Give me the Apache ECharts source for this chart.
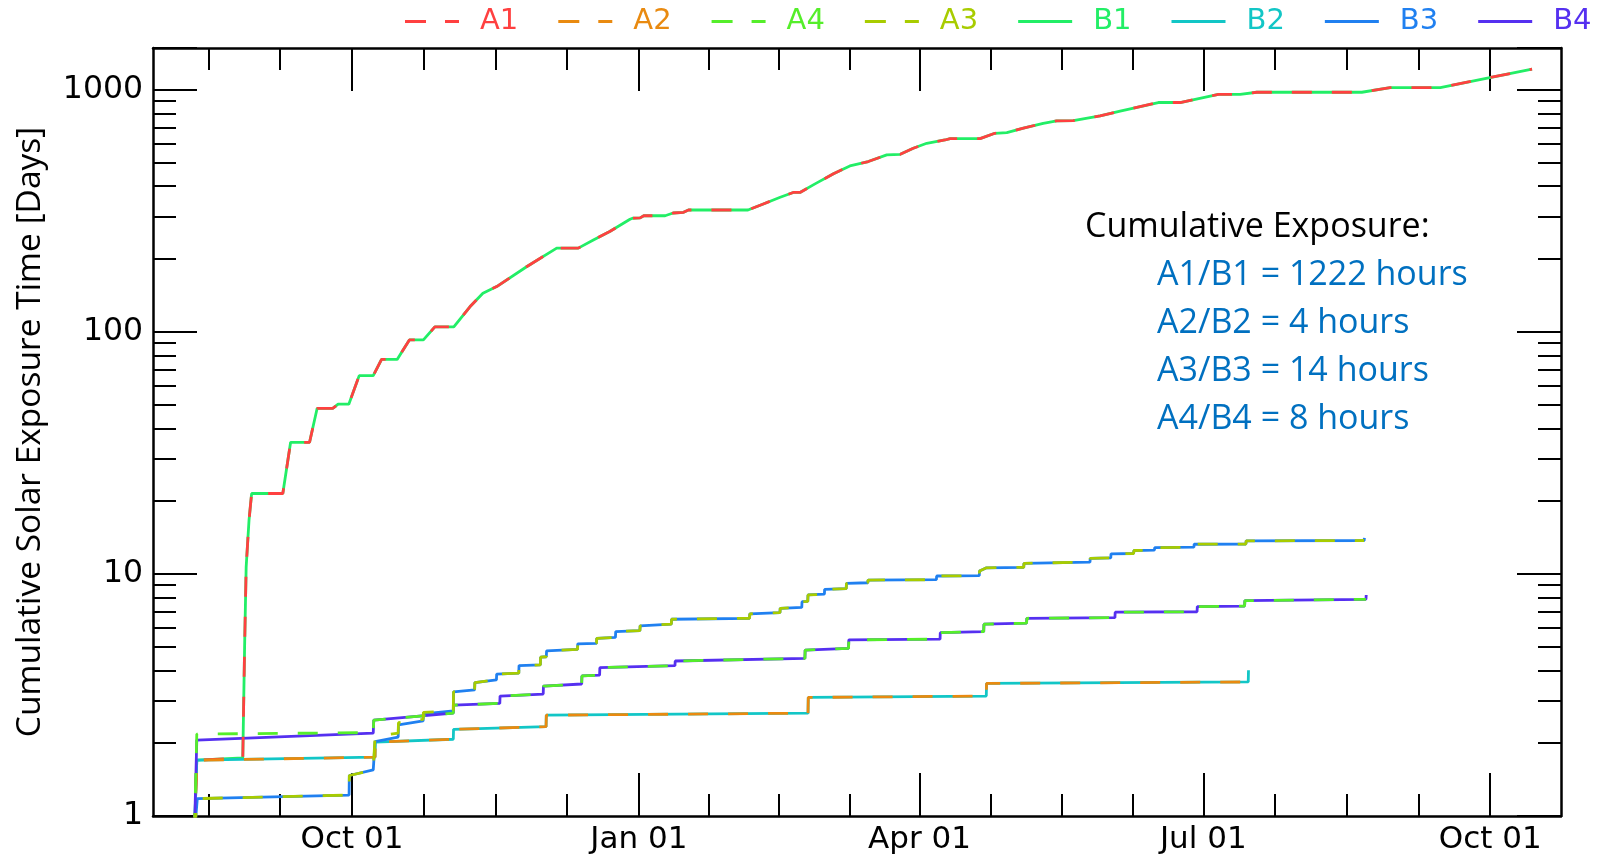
<!DOCTYPE html>
<html><head><meta charset="utf-8">
<script src="https://cdn.jsdelivr.net/npm/echarts@6/dist/echarts.min.js"></script>
<style>html,body{margin:0;padding:0;background:#fff}#c{width:1600px;height:855px}</style>
</head><body><div id="c"></div>
<script>
// ---------- DATA ----------
const seriesNames = ['A1','A2','A4','A3','B1','B2','B3','B4'];
const seriesColors = {A1:'#ff4040',A2:'#e98a10',A4:'#55ee2a',A3:'#a8cc00',B1:'#22ee66',B2:'#12c6c6',B3:'#2080f0',B4:'#5530f0'};
const monthLabels = ['Jan','Feb','Mar','Apr','May','Jun','Jul','Aug','Sep','Oct','Nov','Dec'];
const xMajorTicks = ['2018-10-01','2019-01-01','2019-04-01','2019-07-01','2019-10-01'];
const yTickLabels = [1, 10, 100, 1000];
const yTitle = 'Cumulative Solar Exposure Time [Days]';
const exposureTitle = 'Cumulative Exposure:';
const exposureLines = ['A1/B1 = 1222 hours','A2/B2 = 4 hours','A3/B3 = 14 hours','A4/B4 = 8 hours'];

const A1 = [
['2018-08-11 12:00',0.85],['2018-08-12 06:00',1.70],['2018-08-27 00:00',1.74],['2018-08-27 14:00',5.0],
['2018-08-28 02:00',10.7],['2018-08-29 00:00',16.7],['2018-08-29 20:00',21.5],['2018-09-08 20:00',21.5],
['2018-09-11 08:00',35],['2018-09-17 10:00',35],['2018-09-19 20:00',48.3],['2018-09-24 20:00',48.3],
['2018-09-26 14:00',50.3],['2018-09-30 00:00',50.3],['2018-10-03 08:00',66],['2018-10-07 20:00',66],
['2018-10-10 12:00',77],['2018-10-15 12:00',77],['2018-10-19 10:00',92.7],['2018-10-23 22:00',92.7],
['2018-10-27 14:00',105],['2018-11-02 16:00',105],['2018-11-07 20:00',127],['2018-11-12 00:00',144.5],
['2018-11-16 10:00',154],['2018-11-26 00:00',186],['2018-12-05 16:00',222],['2018-12-12 14:00',222],
['2018-12-17 10:00',240],['2018-12-22 16:00',260],['2018-12-29 04:00',292],['2018-12-30 00:00',295],
['2019-01-01 10:00',296],['2019-01-02 14:00',302],['2019-01-09 10:00',302],['2019-01-12 00:00',310],
['2019-01-15 08:00',312],['2019-01-16 22:00',319],['2019-02-05 00:00',319],['2019-02-09 22:00',338],
['2019-02-15 08:00',360],['2019-02-19 12:00',377],['2019-02-21 16:00',377],['2019-02-26 12:00',409],
['2019-03-04 10:00',450],['2019-03-09 16:00',485],['2019-03-15 14:00',506],['2019-03-21 12:00',539],
['2019-03-25 20:00',542],['2019-03-30 00:00',574],['2019-04-03 08:00',602],['2019-04-09 04:00',621],
['2019-04-10 20:00',629],['2019-04-20 10:00',629],['2019-04-25 04:00',662],['2019-04-29 00:00',666],
['2019-05-04 08:00',695],['2019-05-10 16:00',728],['2019-05-15 00:00',745],['2019-05-20 08:00',747],
['2019-05-28 22:00',781],['2019-06-04 08:00',817],['2019-06-16 14:00',887],['2019-06-23 14:00',887],
['2019-07-05 20:00',958],['2019-07-12 20:00',958],['2019-07-18 04:00',978],['2019-08-20 20:00',978],
['2019-08-29 22:00',1023],['2019-09-15 00:00',1023],['2019-10-14 10:00',1219]
];
const B1 = A1.slice();

const A2 = [
['2018-08-11 12:00',0.85],['2018-08-12 06:00',1.70],['2018-10-08 10:00',1.75],['2018-10-08 12:00',2.02],
['2018-11-02 12:00',2.075],['2018-11-02 14:00',2.28],['2018-12-02 06:00',2.34],['2018-12-02 08:00',2.61],
['2019-02-24 06:00',2.66],['2019-02-24 08:00',3.09],['2019-04-22 10:00',3.13],['2019-04-22 12:00',3.53],
['2019-07-15 10:00',3.58]
];
const B2 = A2.concat([['2019-07-15 12:00',4.0]]);

const A3 = [
['2018-08-11 12:00',0.85],['2018-08-12 10:00',1.18],['2018-09-30 02:00',1.22],['2018-09-30 04:00',1.47],
['2018-10-07 20:00',1.55],['2018-10-08 10:00',2.13],['2018-10-15 20:00',2.20],['2018-10-15 22:00',2.43],
['2018-10-23 20:00',2.51],['2018-10-23 22:00',2.68],['2018-11-02 12:00',2.72],['2018-11-02 14:00',3.26],
['2018-11-09 08:00',3.32],['2018-11-09 10:00',3.56],['2018-11-16 08:00',3.65],['2018-11-16 10:00',3.86],
['2018-11-23 12:00',3.89],['2018-11-23 14:00',4.18],['2018-11-30 10:00',4.21],['2018-11-30 12:00',4.53],
['2018-12-02 08:00',4.55],['2018-12-02 10:00',4.81],['2018-12-12 08:00',4.88],['2018-12-12 10:00',5.14],
['2018-12-18 10:00',5.17],['2018-12-18 12:00',5.42],['2018-12-24 12:00',5.47],['2018-12-24 14:00',5.78],
['2019-01-01 08:00',5.83],['2019-01-01 10:00',6.10],['2019-01-11 10:00',6.21],['2019-01-11 12:00',6.50],
['2019-02-05 12:00',6.56],['2019-02-05 14:00',6.84],['2019-02-15 06:00',6.92],['2019-02-15 08:00',7.21],
['2019-02-22 06:00',7.28],['2019-02-22 08:00',7.68],['2019-02-24 04:00',7.70],['2019-02-24 06:00',8.19],
['2019-03-01 12:00',8.25],['2019-03-01 14:00',8.64],['2019-03-08 12:00',8.70],['2019-03-08 14:00',9.15],
['2019-03-15 10:00',9.20],['2019-03-15 12:00',9.44],['2019-04-06 10:00',9.47],['2019-04-06 12:00',9.81],
['2019-04-20 04:00',9.84],['2019-04-20 06:00',10.28],['2019-04-22 12:00',10.6],['2019-05-04 10:00',10.65],
['2019-05-04 12:00',11.07],['2019-05-25 16:00',11.2],['2019-05-25 18:00',11.6],['2019-06-01 08:00',11.65],
['2019-06-01 10:00',12.1],['2019-06-08 16:00',12.15],['2019-06-08 18:00',12.5],['2019-06-15 08:00',12.55],
['2019-06-15 10:00',12.85],['2019-06-28 00:00',12.9],['2019-06-28 02:00',13.27],['2019-07-14 16:00',13.3],
['2019-07-14 18:00',13.7],['2019-08-21 14:00',13.75]
];
const B3 = [
['2018-08-11 12:00',0.85],['2018-08-12 10:00',1.18],['2018-09-30 02:00',1.22],['2018-09-30 04:00',1.47],
['2018-10-07 20:00',1.55],['2018-10-08 10:00',2.03],['2018-10-15 20:00',2.12],['2018-10-15 22:00',2.38],
['2018-10-23 20:00',2.47],['2018-10-23 22:00',2.64],['2018-11-02 12:00',2.72],['2018-11-02 14:00',3.26]
].concat(A3.slice(12)).concat([['2019-08-21 16:00',14.1]]);

const A4 = [
['2018-08-11 12:00',0.85],['2018-08-12 06:00',2.18],['2018-10-07 20:00',2.21],['2018-10-08 00:00',2.49],
['2018-11-02 12:00',2.66],['2018-11-02 14:00',2.87],['2018-11-17 10:00',2.92],['2018-11-17 12:00',3.13],
['2018-12-01 08:00',3.19],['2018-12-01 10:00',3.44],['2018-12-13 16:00',3.51],['2018-12-13 18:00',3.79],
['2018-12-19 10:00',3.82],['2018-12-19 12:00',4.10],['2019-01-12 14:00',4.18],['2019-01-12 16:00',4.37],
['2019-02-23 06:00',4.48],['2019-02-23 08:00',4.85],['2019-03-09 06:00',4.93],['2019-03-09 08:00',5.34],
['2019-04-07 14:00',5.38],['2019-04-07 16:00',5.72],['2019-04-21 14:00',5.78],['2019-04-21 16:00',6.20],
['2019-05-05 08:00',6.26],['2019-05-05 10:00',6.56],['2019-06-02 16:00',6.60],['2019-06-02 18:00',6.95],
['2019-06-29 00:00',6.98],['2019-06-29 02:00',7.33],['2019-07-14 06:00',7.37],['2019-07-14 08:00',7.76],
['2019-08-22 04:00',7.86]
];
const B4 = [['2018-08-11 12:00',0.85],['2018-08-12 06:00',2.06],['2018-10-07 20:00',2.20]]
  .concat(A4.slice(3)).concat([['2019-08-22 06:00',8.19]]);

const seriesData = {A1,A2,A3,A4,B1,B2,B3,B4};
const xMin = new Date(2018, 6, 29, 5).getTime();
const xMax = new Date(2019, 9, 23, 17).getTime();
const yMin = 1, yMax = 1490;

// ---------- CHART ----------
const chart = echarts.init(document.getElementById('c'), null, {renderer: 'canvas'});
const tickFont = 'DejaVu Sans';
const textFont = 'Open Sans';

function toTime(s) {
  const [d, t] = s.split(' ');
  const p = d.split('-').map(Number);
  const h = t ? t.split(':').map(Number) : [0, 0];
  return new Date(p[0], p[1] - 1, p[2], h[0], h[1]).getTime();
}
const majorVals = xMajorTicks.map(toTime);
// minor ticks: each quarter split in 4, extended before the first quarter tick
const minorVals = [];
for (let i = 0; i < majorVals.length - 1; i++) {
  const a = majorVals[i], b = majorVals[i + 1], q = (b - a) / 4;
  for (let k = 1; k < 4; k++) minorVals.push(a + k * q);
  if (i === 0) for (let k = 1; k < 4; k++) { const v = a - k * q; if (v > xMin) minorVals.push(v); }
}
minorVals.sort((u, v) => u - v);

function xLabel(v) {
  const d = new Date(v);
  return monthLabels[d.getMonth()] + ' ' + String(d.getDate()).padStart(2, '0');
}
function yLabel(v) {
  const l = Math.log10(v);
  if (Math.abs(l - Math.round(l)) > 1e-6) return '';
  return yTickLabels.indexOf(Math.round(v)) >= 0 ? String(Math.round(v)) : '';
}
function xAxisMajor(pos, showLabel) {
  return {
    type: 'value', gridIndex: 0, position: pos, min: xMin, max: xMax, scale: true,
    axisLine: {show: true, onZero: false, lineStyle: {color: '#000', width: 2.5}},
    axisTick: {show: true, inside: true, length: 43, customValues: majorVals, lineStyle: {color: '#000', width: 2}},
    minorTick: {show: false}, splitLine: {show: false},
    axisLabel: {show: showLabel, customValues: majorVals, formatter: xLabel, fontFamily: tickFont, fontSize: 31,
      color: '#000', margin: 8, hideOverlap: false}
  };
}
function xAxisMinor(pos) {
  return {
    type: 'value', gridIndex: 1, position: pos, min: xMin, max: xMax, scale: true,
    axisLine: {show: false, onZero: false},
    axisTick: {show: true, inside: true, length: 22, customValues: minorVals, lineStyle: {color: '#000', width: 2}},
    minorTick: {show: false}, splitLine: {show: false},
    axisLabel: {show: false}
  };
}
function yAxisCfg(pos, showLabel) {
  const c = {
    type: 'log', logBase: 10, gridIndex: 0, position: pos, min: yMin, max: yMax,
    axisLine: {show: true, lineStyle: {color: '#000', width: 2.5}},
    axisTick: {show: true, inside: true, length: 44, lineStyle: {color: '#000', width: 2}},
    minorTick: {show: true, splitNumber: 9, length: 23, lineStyle: {color: '#000', width: 2}},
    splitLine: {show: false}, minorSplitLine: {show: false},
    axisLabel: {show: showLabel, formatter: yLabel, fontFamily: tickFont, fontSize: 31.5, color: '#000', margin: 10,
      showMaxLabel: true, hideOverlap: false}
  };
  if (showLabel) {
    c.name = yTitle; c.nameLocation = 'middle'; c.nameGap = 106;
    c.nameTextStyle = {fontFamily: textFont, fontSize: 33.5, color: '#000'};
  }
  return c;
}

const drawOrder = ['B1','B2','B3','B4','A1','A2','A4','A3'];
const series = drawOrder.map(n => ({
  name: n, type: 'line', data: seriesData[n].map(p => [toTime(p[0]), p[1]]), xAxisIndex: 0, yAxisIndex: 0,
  symbol: 'none', showSymbol: false, clip: true, animation: false,
  itemStyle: {color: seriesColors[n]},
  lineStyle: {color: seriesColors[n], width: 2.8, type: n[0] === 'A' ? [20, 20] : 'solid'},
  emphasis: {disabled: true}
}));

const dashIcon = 'path://M0,0H21V3H0ZM40,0H54V3H40Z';
const solidIcon = 'path://M0,0H54V3H0Z';

const graphic = [{type: 'text', x: 1085, y: 227.5, style: {text: exposureTitle, fontFamily: textFont, fontSize: 34, fill: '#000', verticalAlign: 'middle'}}]
  .concat(exposureLines.map((t, i) => ({type: 'text', x: 1157, y: 275 + i * 48, style: {text: t, fontFamily: textFont, fontSize: 34, fill: '#0070c0', verticalAlign: 'middle'}})));

const gridBox = {left: 153, right: 39, top: 48, bottom: 39, containLabel: false};
chart.setOption({
  animation: false,
  backgroundColor: '#fff',
  grid: [Object.assign({}, gridBox), Object.assign({}, gridBox)],
  legend: {
    left: 405, top: 7, width: 1300, padding: 0, itemWidth: 54, itemHeight: 3, itemGap: 40,
    textStyle: {fontFamily: tickFont, fontSize: 29, padding: [0, 0, 0, 16]},
    data: seriesNames.map(n => ({name: n, icon: n[0] === 'A' ? dashIcon : solidIcon, textStyle: {color: seriesColors[n]}}))
  },
  xAxis: [xAxisMajor('bottom', true), xAxisMajor('top', false), xAxisMinor('bottom'), xAxisMinor('top')],
  yAxis: [yAxisCfg('left', true), yAxisCfg('right', false), {type: 'log', gridIndex: 1, min: yMin, max: yMax, show: false}],
  series: series,
  graphic: graphic
});
</script></body></html>
